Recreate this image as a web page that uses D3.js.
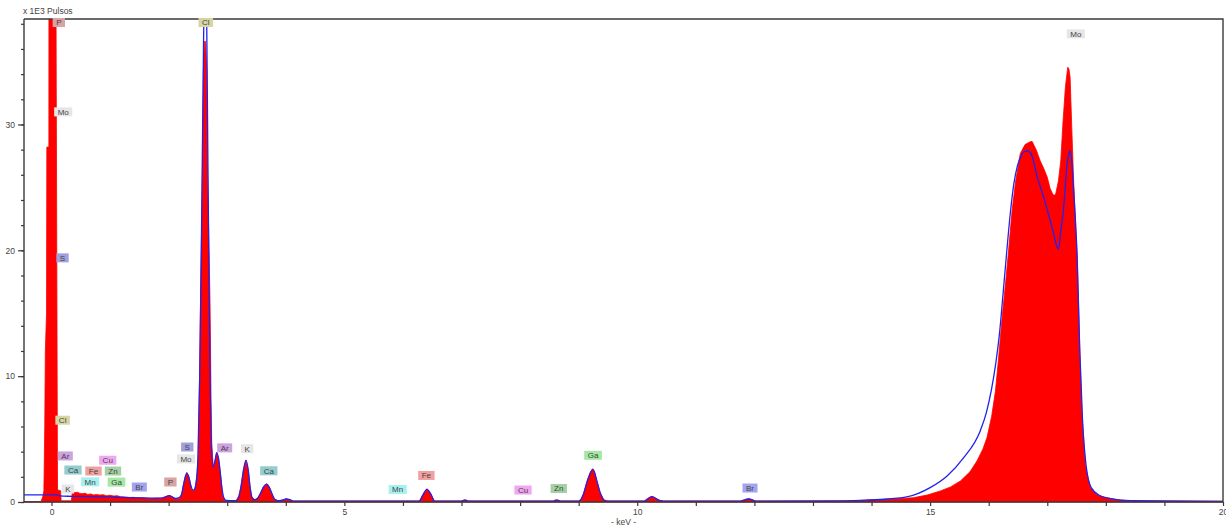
<!DOCTYPE html>
<html>
<head>
<meta charset="utf-8">
<script src="https://cdn.jsdelivr.net/npm/d3@7"></script>
<style>
  body { margin: 0; background: #fff; }
  svg { display: block; font-family: "Liberation Sans", Arial, sans-serif; }
</style>
</head>
<body>
<svg id="chart" width="1226" height="526"></svg>
<script>
// Measured spectrum: energy (keV) and counts (x 1000 pulses)
const spectrumKeV = [
  -0.47, -0.18, -0.15, -0.13, -0.115, -0.105, -0.085, -0.08, -0.045, -0.04, 0.0, 0.04, 0.07, 0.078, 0.09, 0.1, 0.103, 0.155, 0.165, 0.34,
  0.355, 0.40, 0.44, 0.48, 0.52, 0.57, 0.62, 0.67, 0.72, 0.77, 0.82, 0.88, 0.94, 1.0, 1.06, 1.12, 1.18, 1.25, 1.32, 1.4,
  1.48, 1.56, 1.64, 1.72, 1.80, 1.88, 1.94, 1.98, 2.02, 2.06, 2.10, 2.15, 2.19, 2.22, 2.25, 2.28, 2.31, 2.34, 2.37, 2.39,
  2.42, 2.45, 2.48, 2.505, 2.528, 2.553, 2.576, 2.593, 2.612, 2.63, 2.651, 2.664, 2.69, 2.707, 2.724, 2.736, 2.763, 2.79, 2.82, 2.85,
  2.878, 2.907, 2.925, 2.96, 3.0, 3.15, 3.2, 3.23, 3.275, 3.32, 3.36, 3.39, 3.418, 3.47, 3.52, 3.56, 3.616, 3.674, 3.72, 3.76,
  3.8, 3.86, 3.94, 4.0, 4.06, 4.12, 5.0, 6.0, 6.28, 6.33, 6.36, 6.41, 6.46, 6.5, 6.54, 7.0, 7.03, 7.07, 7.11, 8.57,
  8.6, 8.65, 8.68, 9.0, 9.04, 9.08, 9.147, 9.2, 9.24, 9.27, 9.307, 9.364, 9.43, 9.5, 10.12, 10.18, 10.25, 10.31, 10.39, 10.45,
  11.76, 11.84, 11.9, 11.96, 12.02, 13.4, 13.8, 14.15, 14.45, 14.71, 14.95, 15.175, 15.35, 15.517, 15.68, 15.80, 15.9, 15.97, 16.05, 16.115,
  16.17, 16.23, 16.29, 16.34, 16.4, 16.46, 16.5, 16.54, 16.62, 16.7, 16.74, 16.81, 16.88, 16.94, 17.0, 17.05, 17.1, 17.14, 17.19, 17.23,
  17.27, 17.31, 17.35, 17.37, 17.39, 17.42, 17.45, 17.48, 17.51, 17.555, 17.595, 17.65, 17.7, 17.74, 17.84, 17.93, 18.02, 18.2, 18.42, 20.0
];
const spectrumCounts = [
  0.02, 0.03, 0.4, 0.9, 6.0, 12.0, 15.0, 28.2, 28.2, 75, 85, 78, 62, 38, 20, 5, 0.95, 0.9, 0.1, 0.1,
  0.8, 0.74, 0.78, 0.7, 0.66, 0.7, 0.6, 0.64, 0.56, 0.6, 0.55, 0.58, 0.5, 0.54, 0.48, 0.5, 0.42, 0.4, 0.36, 0.37,
  0.33, 0.34, 0.3, 0.28, 0.3, 0.3, 0.42, 0.5, 0.53, 0.42, 0.28, 0.22, 0.3, 0.55, 1.3, 1.95, 2.35, 2.1, 1.45, 1.05,
  0.85, 1.1, 1.85, 3.8, 9.8, 18.9, 25.9, 34.3, 36.6, 36.6, 34.3, 26.0, 20.0, 15.6, 8.2, 4.5, 2.75, 3.3, 3.95, 3.55,
  2.5, 1.18, 0.38, 0.12, 0.1, 0.1, 0.5, 1.18, 2.5, 3.34, 2.5, 1.18, 0.38, 0.17, 0.3, 0.65, 1.18, 1.45, 1.18, 0.65,
  0.25, 0.1, 0.15, 0.25, 0.2, 0.08, 0.08, 0.08, 0.08, 0.5, 0.75, 1.05, 0.75, 0.4, 0.08, 0.08, 0.15, 0.17, 0.08, 0.08,
  0.17, 0.15, 0.08, 0.08, 0.2, 0.65, 1.71, 2.4, 2.64, 2.4, 1.71, 0.78, 0.17, 0.08, 0.08, 0.3, 0.44, 0.3, 0.12, 0.08,
  0.08, 0.2, 0.25, 0.2, 0.08, 0.08, 0.12, 0.2, 0.26, 0.34, 0.55, 0.88, 1.2, 1.67, 2.4, 3.26, 4.2, 5.1, 6.8, 8.8,
  11.5, 14.7, 17.5, 20.0, 23.2, 25.5, 26.6, 27.7, 28.4, 28.6, 28.66, 28.0, 27.1, 26.5, 25.8, 24.9, 24.4, 24.4, 25.5, 27.1,
  30.3, 33.0, 34.55, 34.4, 33.75, 29.5, 25.5, 22.4, 19.5, 12.0, 6.7, 3.0, 1.8, 1.14, 0.6, 0.45, 0.34, 0.18, 0.08, 0.06
];

// Fitted spectrum (x 1000 pulses)
const fitKeV = [
  -0.47, 0.1, 0.14, 0.35, 0.6, 1.0, 1.2, 1.5, 1.8, 1.9, 1.96, 2.01, 2.06, 2.12, 2.18, 2.22, 2.26, 2.29, 2.31, 2.34,
  2.38, 2.41, 2.44, 2.47, 2.5, 2.53, 2.56, 2.59, 2.61, 2.63, 2.65, 2.67, 2.69, 2.71, 2.73, 2.76, 2.79, 2.82, 2.85, 2.88,
  2.91, 2.94, 2.98, 3.15, 3.2, 3.24, 3.28, 3.32, 3.36, 3.39, 3.42, 3.47, 3.52, 3.57, 3.62, 3.675, 3.72, 3.77, 3.81, 3.87,
  3.95, 4.01, 4.07, 4.13, 6.28, 6.34, 6.41, 6.48, 6.54, 7.0, 7.06, 7.12, 8.57, 8.63, 8.69, 9.0, 9.08, 9.15, 9.245, 9.31,
  9.37, 9.44, 9.5, 10.12, 10.25, 10.39, 10.45, 11.76, 11.9, 12.03, 13.4, 13.9, 14.15, 14.6, 15.0, 15.29, 15.57, 15.855, 15.96, 16.05,
  16.12, 16.18, 16.25, 16.31, 16.37, 16.43, 16.49, 16.55, 16.61, 16.66, 16.73, 16.78, 16.83, 16.92, 17.0, 17.06, 17.11, 17.15, 17.19, 17.23,
  17.28, 17.34, 17.37, 17.39, 17.42, 17.44, 17.48, 17.51, 17.555, 17.6, 17.66, 17.75, 17.9, 18.1, 18.42, 20.0
];
const fitCounts = [
  0.56, 0.56, 0.48, 0.45, 0.42, 0.4, 0.36, 0.32, 0.3, 0.32, 0.42, 0.5, 0.4, 0.28, 0.35, 0.6, 1.5, 2.1, 2.3, 2.05,
  1.3, 0.95, 1.0, 1.6, 3.5, 10, 21, 34, 42, 45, 38, 27, 17, 9, 4.6, 2.8, 3.2, 3.9, 3.5, 2.4,
  1.1, 0.35, 0.12, 0.1, 0.45, 1.3, 2.6, 3.3, 2.5, 1.2, 0.4, 0.18, 0.3, 0.7, 1.2, 1.42, 1.15, 0.6, 0.22, 0.1,
  0.16, 0.24, 0.18, 0.07, 0.07, 0.55, 1.0, 0.6, 0.07, 0.07, 0.15, 0.07, 0.07, 0.15, 0.07, 0.07, 0.6, 1.7, 2.6, 1.7,
  0.7, 0.12, 0.07, 0.07, 0.42, 0.1, 0.07, 0.07, 0.24, 0.07, 0.08, 0.15, 0.2, 0.4, 1.14, 2.07, 3.5, 5.65, 7.1, 9.0,
  11.0, 13.2, 16.8, 20.0, 23.0, 25.3, 26.7, 27.5, 27.85, 27.9, 27.6, 26.8, 25.8, 24.5, 23.2, 22.2, 21.3, 20.5, 20.1, 21.5,
  23.4, 26.9, 27.7, 27.9, 27.0, 25.5, 22.4, 19.5, 12.0, 6.7, 3.0, 1.14, 0.5, 0.25, 0.1, 0.05
];

// Axis ticks
const xMinorTicks = d3.range(0, 21, 1);
const xTickLabels = [0, 5, 10, 15, 20];
const yMinorTicks = d3.range(0, 39, 2);
const yTickLabels = [0, 10, 20, 30];

// Element line markers: symbol, energy (keV), marker height (x 1000 pulses)
const markerElements = ["P", "Cl", "Mo", "S", "Cl", "Ar", "Cu", "Ca", "Fe", "Zn", "Mn", "Ga", "K", "Br",
                        "P", "S", "Mo", "Ar", "K", "Ca", "Mn", "Fe", "Cu", "Zn", "Ga", "Br", "Mo"];
const markerKeV = [0.125, 2.634, 0.2, 0.188, 0.19, 0.236, 0.96, 0.367, 0.717, 1.05, 0.66, 1.11, 0.28, 1.5,
                   2.03, 2.318, 2.296, 2.957, 3.34, 3.71, 5.91, 6.40, 8.05, 8.66, 9.245, 11.925, 17.487];
const markerLevel = [38.1, 38.1, 31.0, 19.4, 6.5, 3.66, 3.32, 2.54, 2.46, 2.46, 1.6, 1.58, 1.03, 1.19,
                     1.59, 4.37, 3.42, 4.3, 4.23, 2.48, 0.99, 2.11, 0.95, 1.07, 3.71, 1.11, 37.2];
const elementColors = {
  P: "#d8a3a3", Cl: "#d6d6a2", Mo: "#e6e6e6", S: "#a0a0de", Ar: "#cda3df", Cu: "#f0a6f0",
  Ca: "#93cccc", Fe: "#f1a0a0", Zn: "#a3d1a3", Mn: "#a6f0f0", Ga: "#a3e8a3", K: "#e6e6e6", Br: "#a3a3f0"
};

const svg = d3.select("#chart");
const plotLeft = 24, plotRight = 1223, plotTop = 19, plotBottom = 502;

const x = d3.scaleLinear().domain([-0.4695, 20]).range([plotLeft, plotRight]);
const y = d3.scaleLinear().domain([0, 38.38]).range([plotBottom, plotTop]);

svg.append("defs").append("clipPath").attr("id", "plotClip")
  .append("rect").attr("x", plotLeft).attr("y", plotTop)
  .attr("width", plotRight - plotLeft).attr("height", plotBottom - plotTop + 1);

const plot = svg.append("g").attr("clip-path", "url(#plotClip)");

const spectrum = spectrumKeV.map((e, i) => [e, spectrumCounts[i]]);
const fit = fitKeV.map((e, i) => [e, fitCounts[i]]);

plot.append("path")
  .datum(spectrum)
  .attr("fill", "#ff0000")
  .attr("stroke", "#ff0000")
  .attr("stroke-width", 0.8)
  .attr("d", d3.area().x(d => x(d[0])).y0(y(0)).y1(d => y(d[1])));

plot.append("path")
  .datum(fit)
  .attr("fill", "none")
  .attr("stroke", "#2222ee")
  .attr("stroke-width", 1.3)
  .attr("d", d3.line().x(d => x(d[0])).y(d => y(d[1])).curve(d3.curveMonotoneX));

// Axes
const axisColor = "#3a3a3a";
const yMinor = svg.append("g").attr("transform", `translate(${plotLeft},0)`)
  .call(d3.axisLeft(y).tickValues(yMinorTicks).tickSize(3).tickFormat(""));
const yMajor = svg.append("g").attr("transform", `translate(${plotLeft},0)`)
  .call(d3.axisLeft(y).tickValues(yTickLabels).tickSize(6).tickPadding(3).tickFormat(d3.format("d")));
const xAxis = svg.append("g").attr("transform", `translate(0,${plotBottom})`)
  .call(d3.axisBottom(x).tickValues(xMinorTicks).tickSize(4).tickPadding(3)
    .tickFormat(d => xTickLabels.includes(d) ? d : ""));

[yMinor, yMajor, xAxis].forEach(g => {
  g.selectAll("path.domain").attr("stroke", axisColor).attr("stroke-width", 1.4);
  g.selectAll("line").attr("stroke", axisColor).attr("stroke-width", 1.2);
  g.selectAll("text").attr("fill", "#444").style("font-size", "8.5px")
    .style("font-family", "'Liberation Sans', Arial, sans-serif");
});
yMinor.select("path.domain").attr("d", `M0,${plotTop}V${plotBottom}`);
yMajor.select("path.domain").remove();
xAxis.select("path.domain").attr("d", `M${plotLeft},0H${plotRight}`);

// Frame (top and right)
svg.append("path")
  .attr("d", `M${plotLeft},${plotTop}H${plotRight}V${plotBottom}`)
  .attr("fill", "none").attr("stroke", axisColor).attr("stroke-width", 1.4);

// Axis titles
svg.append("text").attr("x", 23).attr("y", 14)
  .attr("fill", "#444").style("font-size", "8.5px").text("x 1E3 Pulsos");
svg.append("text").attr("x", (plotLeft + plotRight) / 2).attr("y", 525)
  .attr("text-anchor", "middle").attr("fill", "#444").style("font-size", "8.5px").text("- keV -");

// Element line markers
const markers = svg.append("g");
markerElements.forEach((el, i) => {
  const g = markers.append("g")
    .attr("transform", `translate(${x(markerKeV[i])},${y(markerLevel[i])})`);
  const rect = g.append("rect");
  const t = g.append("text")
    .attr("text-anchor", "middle").attr("dy", "0.34em")
    .attr("fill", "#444").style("font-size", "8px").text(el);
  const w = t.node().getComputedTextLength() + 7;
  rect.attr("x", -w / 2).attr("y", -4.5).attr("width", w).attr("height", 9)
    .attr("fill", elementColors[el]);
});
</script>
</body>
</html>
